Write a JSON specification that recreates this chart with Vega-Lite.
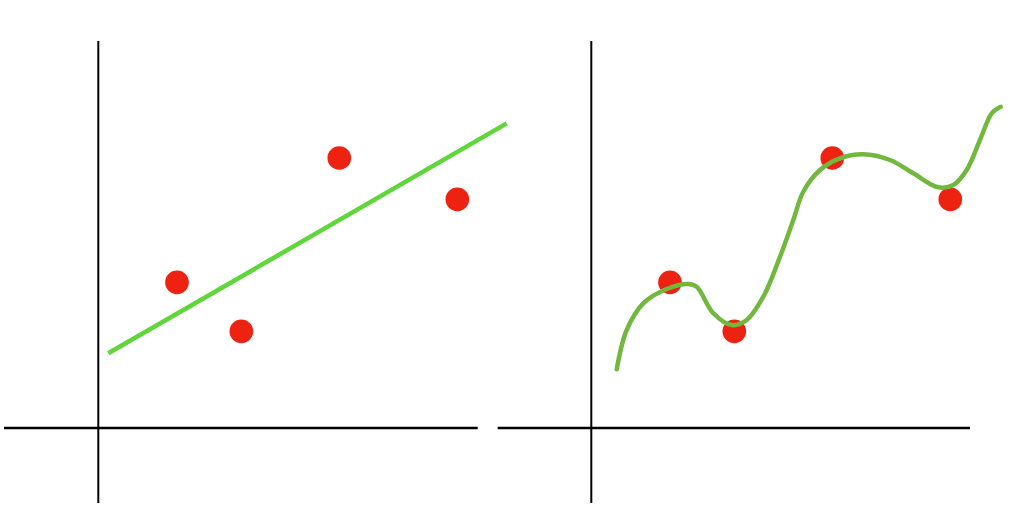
{
  "$schema": "https://vega.github.io/schema/vega-lite/v6.json",
  "width": 1024,
  "height": 519,
  "autosize": {"type": "fit", "contains": "padding"},
  "padding": 0,
  "background": "white",
  "config": {"view": {"stroke": null}},
  "datasets": {
    "axes": [
      {"panel": "left", "dir": "h", "x": -1.913, "x2": 7.696, "y": 0, "y2": 0},
      {"panel": "left", "dir": "v", "x": 0, "x2": 0, "y": 7.85, "y2": -1.521},
      {"panel": "right", "dir": "h", "x": 8.101, "x2": 17.681, "y": 0, "y2": 0},
      {"panel": "right", "dir": "v", "x": 10, "x2": 10, "y": 7.85, "y2": -1.521}
    ],
    "points": [
      {"panel": "left", "x": 1.596, "y": 2.955},
      {"panel": "left", "x": 2.901, "y": 1.961},
      {"panel": "left", "x": 4.888, "y": 5.477},
      {"panel": "left", "x": 7.282, "y": 4.639},
      {"panel": "right", "x": 11.596, "y": 2.955},
      {"panel": "right", "x": 12.901, "y": 1.961},
      {"panel": "right", "x": 14.888, "y": 5.477},
      {"panel": "right", "x": 17.282, "y": 4.639}
    ],
    "fit": [
      {"x": 0.203, "y": 1.515, "x2": 8.284, "y2": 6.18}
    ],
    "curve": [
      {"x": 10.515, "y": 1.191},
      {"x": 10.718, "y": 1.988},
      {"x": 11.055, "y": 2.529},
      {"x": 11.529, "y": 2.819},
      {"x": 11.968, "y": 2.921},
      {"x": 12.138, "y": 2.866},
      {"x": 12.475, "y": 2.327},
      {"x": 12.848, "y": 2.089},
      {"x": 13.152, "y": 2.191},
      {"x": 13.489, "y": 2.663},
      {"x": 13.828, "y": 3.475},
      {"x": 14.097, "y": 4.219},
      {"x": 14.3, "y": 4.793},
      {"x": 14.639, "y": 5.233},
      {"x": 15.045, "y": 5.471},
      {"x": 15.517, "y": 5.552},
      {"x": 16.059, "y": 5.436},
      {"x": 16.531, "y": 5.166},
      {"x": 17.039, "y": 4.882},
      {"x": 17.343, "y": 4.929},
      {"x": 17.614, "y": 5.233},
      {"x": 17.884, "y": 5.842},
      {"x": 18.122, "y": 6.383},
      {"x": 18.304, "y": 6.517}
    ]
  },
  "layer": [
    {
      "data": {"name": "axes"},
      "transform": [{"filter": "datum.dir == 'h'"}],
      "mark": {"type": "rule", "color": "#000000", "strokeWidth": 2.5},
      "encoding": {
        "x": {"field": "x", "type": "quantitative", "axis": null, "scale": {"domain": [-1.994, 18.777], "nice": false, "zero": false}},
        "x2": {"field": "x2"},
        "y": {"field": "y", "type": "quantitative", "axis": null, "scale": {"domain": [-1.846, 8.682], "nice": false, "zero": false}},
        "y2": {"field": "y2"}
      }
    },
    {
      "data": {"name": "axes"},
      "transform": [{"filter": "datum.dir == 'v'"}],
      "mark": {"type": "rule", "color": "#000000", "strokeWidth": 2},
      "encoding": {
        "x": {"field": "x", "type": "quantitative"},
        "x2": {"field": "x2"},
        "y": {"field": "y", "type": "quantitative"},
        "y2": {"field": "y2"}
      }
    },
    {
      "data": {"name": "points"},
      "mark": {"type": "circle", "color": "#ee2211", "opacity": 1, "size": 560},
      "encoding": {
        "x": {"field": "x", "type": "quantitative"},
        "y": {"field": "y", "type": "quantitative"}
      }
    },
    {
      "data": {"name": "fit"},
      "mark": {"type": "rule", "color": "#5fd63a", "strokeWidth": 4.5},
      "encoding": {
        "x": {"field": "x", "type": "quantitative"},
        "x2": {"field": "x2"},
        "y": {"field": "y", "type": "quantitative"},
        "y2": {"field": "y2"}
      }
    },
    {
      "data": {"name": "curve"},
      "mark": {"type": "line", "color": "#72b83f", "strokeWidth": 4.5, "interpolate": "catmull-rom", "strokeCap": "round", "strokeJoin": "round"},
      "encoding": {
        "x": {"field": "x", "type": "quantitative"},
        "y": {"field": "y", "type": "quantitative"}
      }
    }
  ]
}
